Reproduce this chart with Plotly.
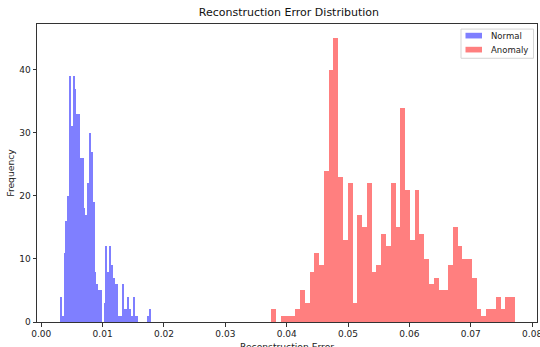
import numpy as np
import plotly.graph_objects as go

# Histogram data
normal_start = 0.00305
normal_end = 0.01787
normal_counts = [4, 1, 11, 16, 20, 39, 31, 39, 37, 33,
                 33, 26, 26, 18, 17, 22, 30, 27, 19, 8,
                 6, 5, 5, 0, 3, 12, 8, 12, 9, 7,
                 6, 6, 1, 1, 6, 2, 2, 4, 2, 1,
                 4, 1, 1, 0, 0, 0, 0, 0, 1, 2]

anomaly_start = 0.0375
anomaly_end = 0.0772
anomaly_counts = [2, 0, 1, 1, 1, 2, 5, 3, 8, 11,
                  9, 24, 40, 45, 23, 13, 22, 3, 17, 15,
                  22, 8, 9, 14, 12, 22, 15, 34, 21, 13,
                  21, 14, 10, 6, 7, 5, 5, 9, 15, 12,
                  10, 10, 7, 2, 1, 2, 2, 4, 2, 4, 4]

series_names = ["Normal", "Anomaly"]
series_colors = ["rgba(0,0,255,0.5)", "rgba(255,0,0,0.5)"]

x_ticks = [0.00, 0.01, 0.02, 0.03, 0.04, 0.05, 0.06, 0.07, 0.08]
y_ticks = [0, 10, 20, 30, 40]


def bins(start, end, counts):
    n = len(counts)
    w = (end - start) / n
    centers = start + w * (np.arange(n) + 0.5)
    return centers, w


nc, nw = bins(normal_start, normal_end, normal_counts)
ac, aw = bins(anomaly_start, anomaly_end, anomaly_counts)

FONT = "DejaVu Sans"

fig = go.Figure()
fig.add_trace(go.Bar(x=nc, y=normal_counts, width=nw, name=series_names[0],
                     marker=dict(color=series_colors[0], line=dict(width=0))))
fig.add_trace(go.Bar(x=ac, y=anomaly_counts, width=aw, name=series_names[1],
                     marker=dict(color=series_colors[1], line=dict(width=0))))

# matplotlib-like legend box (top right, inside the axes)
shapes = [dict(type="rect", xref="paper", yref="paper",
               x0=0.848, x1=0.993, y0=0.885, y1=0.983,
               line=dict(color="#d5d5d5", width=1), fillcolor="rgba(255,255,255,0.8)",
               layer="above")]
annotations = []
for i, (nm, col) in enumerate(zip(series_names, series_colors)):
    yc = 0.961 - i * 0.047
    shapes.append(dict(type="rect", xref="paper", yref="paper",
                       x0=0.857, x1=0.890, y0=yc - 0.0095, y1=yc + 0.0095,
                       line=dict(width=0), fillcolor=col, layer="above"))
    annotations.append(dict(text=nm, xref="paper", yref="paper", x=0.904, y=yc,
                            xanchor="left", yanchor="middle", showarrow=False,
                            font=dict(size=8.5, color="#222")))

# x-axis title, placed like the reference (partly below the bottom edge)
annotations.append(dict(text="Reconstruction Error", xref="paper", yref="paper",
                        x=0.5, y=-0.058, xanchor="center", yanchor="top",
                        showarrow=False, font=dict(size=9.2, color="#222")))

fig.update_layout(
    width=540, height=347,
    margin=dict(l=37, r=3, t=24, b=25, autoexpand=False),
    paper_bgcolor="white", plot_bgcolor="white",
    barmode="overlay", bargap=0,
    font=dict(family=FONT, size=9, color="#222"),
    title=dict(text="Reconstruction Error Distribution", x=0.535, xanchor="center",
               y=0.965, yanchor="middle", font=dict(size=11, color="#111")),
    showlegend=False,
    shapes=shapes, annotations=annotations,
)
fig.update_xaxes(range=[-0.0007, 0.0808], tickvals=x_ticks,
                 ticktext=[f"{v:.2f}" for v in x_ticks], ticklabeloverflow="allow",
                 showgrid=False, zeroline=False, showline=True, mirror=True,
                 linecolor="#333", linewidth=1, ticks="outside", ticklen=3.5,
                 tickcolor="#333", automargin=False)
fig.update_yaxes(range=[0, 47.25], tickvals=y_ticks,
                 showgrid=False, zeroline=False, showline=True, mirror=True,
                 linecolor="#333", linewidth=1, ticks="outside", ticklen=3.5,
                 tickcolor="#333", automargin=False,
                 title=dict(text="Frequency", standoff=3,
                            font=dict(size=9.2)))

fig.write_html("out.html", config={"displayModeBar": False},
               post_script="document.body.style.margin='0';document.body.style.overflow='hidden';")
